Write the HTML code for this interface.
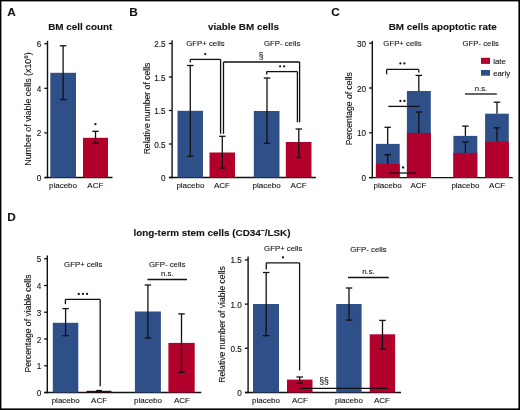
<!DOCTYPE html>
<html><head><meta charset="utf-8"><style>
html,body{margin:0;padding:0;background:#fff;}
body{width:520px;height:410px;overflow:hidden;position:relative;}
svg{position:absolute;left:0;top:0;display:block;filter:blur(0.35px);}
text{font-family:"Liberation Sans",sans-serif;fill:#111;stroke:#111;stroke-width:0.1px;}
</style></head><body>
<svg width="520" height="410" viewBox="0 0 520 410">
<rect x="0" y="0" width="520" height="410" fill="#fff"/>
<text x="7.3" y="15.8" font-size="11.8" text-anchor="start" font-weight="bold">A</text>
<text x="80.3" y="30.4" font-size="9.9" text-anchor="middle" font-weight="bold">BM cell count</text>
<text transform="translate(31.0,109) rotate(-90)" x="0" y="0" font-size="8.9" text-anchor="middle">Number of viable cells (x10<tspan dy="-3.2" font-size="6.2">6</tspan><tspan dy="3.2">)</tspan></text>
<line x1="47.5" y1="40.8" x2="47.5" y2="178.2" stroke="#111" stroke-width="1.4"/>
<line x1="44.3" y1="177.5" x2="47.5" y2="177.5" stroke="#111" stroke-width="1.3"/>
<text x="41.3" y="181.05" font-size="8.2" text-anchor="end">0</text>
<line x1="44.3" y1="132.9" x2="47.5" y2="132.9" stroke="#111" stroke-width="1.3"/>
<text x="41.3" y="136.45" font-size="8.2" text-anchor="end">2</text>
<line x1="44.3" y1="88.3" x2="47.5" y2="88.3" stroke="#111" stroke-width="1.3"/>
<text x="41.3" y="91.85" font-size="8.2" text-anchor="end">4</text>
<line x1="44.3" y1="43.69999999999999" x2="47.5" y2="43.69999999999999" stroke="#111" stroke-width="1.3"/>
<text x="41.3" y="47.25" font-size="8.2" text-anchor="end">6</text>
<line x1="44.8" y1="177.5" x2="112.5" y2="177.5" stroke="#111" stroke-width="1.4"/>
<rect x="50.3" y="72.8" width="25.7" height="104.7" fill="#2f4f89"/>
<line x1="63.1" y1="45.8" x2="63.1" y2="99.6" stroke="#111" stroke-width="1.3"/>
<line x1="59.85" y1="45.8" x2="66.35" y2="45.8" stroke="#111" stroke-width="1.3"/>
<line x1="59.85" y1="99.6" x2="66.35" y2="99.6" stroke="#111" stroke-width="1.3"/>
<rect x="83" y="137.8" width="25" height="39.7" fill="#b2002c"/>
<line x1="95.5" y1="131.3" x2="95.5" y2="143.1" stroke="#111" stroke-width="1.3"/>
<line x1="92.25" y1="131.3" x2="98.75" y2="131.3" stroke="#111" stroke-width="1.3"/>
<line x1="92.25" y1="143.1" x2="98.75" y2="143.1" stroke="#111" stroke-width="1.3"/>
<circle cx="95.4" cy="124.2" r="1.15" fill="#111"/>
<text x="63" y="188.2" font-size="8.0" text-anchor="middle">placebo</text>
<text x="95.3" y="188.2" font-size="8.0" text-anchor="middle">ACF</text>
<text x="129.3" y="15.8" font-size="11.8" text-anchor="start" font-weight="bold">B</text>
<text x="243.5" y="30.4" font-size="9.9" text-anchor="middle" font-weight="bold">viable BM cells</text>
<text transform="translate(149.6,108.5) rotate(-90)" x="0" y="0" font-size="8.6" text-anchor="middle">Relative number of cells</text>
<line x1="172.1" y1="40.2" x2="172.1" y2="178.2" stroke="#111" stroke-width="1.4"/>
<line x1="168.9" y1="43.5" x2="172.1" y2="43.5" stroke="#111" stroke-width="1.3"/>
<text x="165.6" y="47.05" font-size="8.2" text-anchor="end">2.5</text>
<line x1="168.9" y1="77" x2="172.1" y2="77" stroke="#111" stroke-width="1.3"/>
<text x="165.6" y="80.55" font-size="8.2" text-anchor="end">1.5</text>
<line x1="168.9" y1="110.5" x2="172.1" y2="110.5" stroke="#111" stroke-width="1.3"/>
<text x="165.6" y="114.05" font-size="8.2" text-anchor="end">1.5</text>
<line x1="168.9" y1="144" x2="172.1" y2="144" stroke="#111" stroke-width="1.3"/>
<text x="165.6" y="147.55" font-size="8.2" text-anchor="end">0.5</text>
<line x1="168.9" y1="177.5" x2="172.1" y2="177.5" stroke="#111" stroke-width="1.3"/>
<text x="165.6" y="181.05" font-size="8.2" text-anchor="end">0</text>
<line x1="169" y1="177.5" x2="315.8" y2="177.5" stroke="#111" stroke-width="1.4"/>
<rect x="177.5" y="110.8" width="25.5" height="66.7" fill="#2f4f89"/>
<line x1="190.3" y1="65.5" x2="190.3" y2="156.3" stroke="#111" stroke-width="1.3"/>
<line x1="187.05" y1="65.5" x2="193.55" y2="65.5" stroke="#111" stroke-width="1.3"/>
<line x1="187.05" y1="156.3" x2="193.55" y2="156.3" stroke="#111" stroke-width="1.3"/>
<rect x="209.5" y="152.5" width="25.5" height="25.0" fill="#b2002c"/>
<line x1="222.3" y1="136.3" x2="222.3" y2="168" stroke="#111" stroke-width="1.3"/>
<line x1="219.05" y1="136.3" x2="225.55" y2="136.3" stroke="#111" stroke-width="1.3"/>
<line x1="219.05" y1="168" x2="225.55" y2="168" stroke="#111" stroke-width="1.3"/>
<rect x="253.8" y="111" width="25.7" height="66.5" fill="#2f4f89"/>
<line x1="267" y1="78" x2="267" y2="143.3" stroke="#111" stroke-width="1.3"/>
<line x1="263.75" y1="78" x2="270.25" y2="78" stroke="#111" stroke-width="1.3"/>
<line x1="263.75" y1="143.3" x2="270.25" y2="143.3" stroke="#111" stroke-width="1.3"/>
<rect x="285.8" y="142" width="25.7" height="35.5" fill="#b2002c"/>
<line x1="298.8" y1="129" x2="298.8" y2="157.5" stroke="#111" stroke-width="1.3"/>
<line x1="295.55" y1="129" x2="302.05" y2="129" stroke="#111" stroke-width="1.3"/>
<line x1="295.55" y1="157.5" x2="302.05" y2="157.5" stroke="#111" stroke-width="1.3"/>
<line x1="190.3" y1="59.4" x2="220.6" y2="59.4" stroke="#111" stroke-width="1.3"/>
<line x1="190.3" y1="59.4" x2="190.3" y2="62.4" stroke="#111" stroke-width="1.3"/>
<line x1="220.6" y1="59.4" x2="220.6" y2="133.8" stroke="#111" stroke-width="1.3"/>
<circle cx="205.2" cy="54.1" r="1.15" fill="#111"/>
<line x1="223.5" y1="62" x2="299.6" y2="62" stroke="#111" stroke-width="1.3"/>
<line x1="223.5" y1="62" x2="223.5" y2="133.8" stroke="#111" stroke-width="1.3"/>
<line x1="299.6" y1="62" x2="299.6" y2="122.3" stroke="#111" stroke-width="1.3"/>
<text x="261.2" y="58.6" font-size="8.6" text-anchor="middle">§</text>
<line x1="266.7" y1="71.6" x2="297.4" y2="71.6" stroke="#111" stroke-width="1.3"/>
<line x1="266.7" y1="71.6" x2="266.7" y2="74.5" stroke="#111" stroke-width="1.3"/>
<line x1="297.4" y1="71.6" x2="297.4" y2="122.3" stroke="#111" stroke-width="1.3"/>
<circle cx="280.1" cy="66.3" r="1.15" fill="#111"/>
<circle cx="284.1" cy="66.3" r="1.15" fill="#111"/>
<text x="205.4" y="46.2" font-size="7.8" text-anchor="middle">GFP+ cells</text>
<text x="282.1" y="46.2" font-size="7.8" text-anchor="middle">GFP- cells</text>
<text x="190.4" y="188.2" font-size="8.0" text-anchor="middle">placebo</text>
<text x="222" y="188.2" font-size="8.0" text-anchor="middle">ACF</text>
<text x="266.6" y="188.2" font-size="8.0" text-anchor="middle">placebo</text>
<text x="298.6" y="188.2" font-size="8.0" text-anchor="middle">ACF</text>
<text x="331.3" y="15.8" font-size="11.8" text-anchor="start" font-weight="bold">C</text>
<text x="442.7" y="30.4" font-size="9.9" text-anchor="middle" font-weight="bold">BM cells apoptotic rate</text>
<text transform="translate(351.6,108.8) rotate(-90)" x="0" y="0" font-size="8.6" text-anchor="middle">Percentage of cells</text>
<line x1="372.3" y1="41" x2="372.3" y2="178.29999999999998" stroke="#111" stroke-width="1.4"/>
<line x1="369.1" y1="177.6" x2="372.3" y2="177.6" stroke="#111" stroke-width="1.3"/>
<text x="366.0" y="181.15" font-size="8.2" text-anchor="end">0</text>
<line x1="369.1" y1="132.79999999999998" x2="372.3" y2="132.79999999999998" stroke="#111" stroke-width="1.3"/>
<text x="366.0" y="136.35" font-size="8.2" text-anchor="end">10</text>
<line x1="369.1" y1="87.99999999999999" x2="372.3" y2="87.99999999999999" stroke="#111" stroke-width="1.3"/>
<text x="366.0" y="91.55" font-size="8.2" text-anchor="end">20</text>
<line x1="369.1" y1="43.19999999999999" x2="372.3" y2="43.19999999999999" stroke="#111" stroke-width="1.3"/>
<text x="366.0" y="46.75" font-size="8.2" text-anchor="end">30</text>
<line x1="369" y1="177.6" x2="512.8" y2="177.6" stroke="#111" stroke-width="1.4"/>
<rect x="375.9" y="143.9" width="23.8" height="33.7" fill="#2f4f89"/>
<rect x="375.9" y="163.9" width="23.8" height="13.7" fill="#b2002c"/>
<line x1="387.7" y1="127.3" x2="387.7" y2="143.9" stroke="#111" stroke-width="1.3"/>
<line x1="384.45" y1="127.3" x2="390.95" y2="127.3" stroke="#111" stroke-width="1.3"/>
<line x1="387.7" y1="154.7" x2="387.7" y2="163.9" stroke="#111" stroke-width="1.3"/>
<line x1="384.45" y1="154.7" x2="390.95" y2="154.7" stroke="#111" stroke-width="1.3"/>
<rect x="406.9" y="91" width="23.9" height="86.6" fill="#2f4f89"/>
<rect x="406.9" y="132.9" width="23.9" height="44.7" fill="#b2002c"/>
<line x1="418.8" y1="75.4" x2="418.8" y2="91" stroke="#111" stroke-width="1.3"/>
<line x1="415.55" y1="75.4" x2="422.05" y2="75.4" stroke="#111" stroke-width="1.3"/>
<line x1="418.8" y1="112" x2="418.8" y2="132.9" stroke="#111" stroke-width="1.3"/>
<line x1="415.55" y1="112" x2="422.05" y2="112" stroke="#111" stroke-width="1.3"/>
<rect x="453.4" y="135.9" width="23.9" height="41.7" fill="#2f4f89"/>
<rect x="453.4" y="152.9" width="23.9" height="24.7" fill="#b2002c"/>
<line x1="465.4" y1="126.1" x2="465.4" y2="135.9" stroke="#111" stroke-width="1.3"/>
<line x1="462.15" y1="126.1" x2="468.65" y2="126.1" stroke="#111" stroke-width="1.3"/>
<line x1="465.4" y1="142" x2="465.4" y2="152.9" stroke="#111" stroke-width="1.3"/>
<line x1="462.15" y1="142" x2="468.65" y2="142" stroke="#111" stroke-width="1.3"/>
<rect x="485.1" y="113.7" width="23.7" height="63.9" fill="#2f4f89"/>
<rect x="485.1" y="141.7" width="23.7" height="35.9" fill="#b2002c"/>
<line x1="497" y1="102.2" x2="497" y2="113.7" stroke="#111" stroke-width="1.3"/>
<line x1="493.75" y1="102.2" x2="500.25" y2="102.2" stroke="#111" stroke-width="1.3"/>
<line x1="497" y1="127.8" x2="497" y2="141.7" stroke="#111" stroke-width="1.3"/>
<line x1="493.75" y1="127.8" x2="500.25" y2="127.8" stroke="#111" stroke-width="1.3"/>
<line x1="386.6" y1="69.4" x2="418.8" y2="69.4" stroke="#111" stroke-width="1.3"/>
<line x1="386.6" y1="69.5" x2="386.6" y2="74.3" stroke="#111" stroke-width="1.3"/>
<line x1="418.8" y1="69.5" x2="418.8" y2="72.5" stroke="#111" stroke-width="1.3"/>
<circle cx="400.4" cy="63.4" r="1.15" fill="#111"/>
<circle cx="404.4" cy="63.4" r="1.15" fill="#111"/>
<line x1="388.3" y1="106.4" x2="419.8" y2="106.4" stroke="#111" stroke-width="1.3"/>
<circle cx="400.4" cy="101" r="1.15" fill="#111"/>
<circle cx="404.4" cy="101" r="1.15" fill="#111"/>
<line x1="389" y1="173" x2="415.8" y2="173" stroke="#111" stroke-width="1.3"/>
<circle cx="403.1" cy="167.5" r="1.15" fill="#111"/>
<line x1="465" y1="94" x2="496.8" y2="94" stroke="#111" stroke-width="1.3"/>
<text x="481" y="91.1" font-size="7.8" text-anchor="middle">n.s.</text>
<rect x="481" y="57.8" width="9" height="6.1" fill="#b2002c"/>
<text x="493.2" y="63.6" font-size="7.8" text-anchor="start">late</text>
<rect x="481" y="70" width="9" height="5.7" fill="#2f4f89"/>
<text x="493.2" y="75.9" font-size="7.8" text-anchor="start">early</text>
<text x="402.5" y="46.2" font-size="7.8" text-anchor="middle">GFP+ cells</text>
<text x="480.6" y="46.2" font-size="7.8" text-anchor="middle">GFP- cells</text>
<text x="387.6" y="188.2" font-size="8.0" text-anchor="middle">placebo</text>
<text x="418.4" y="188.2" font-size="8.0" text-anchor="middle">ACF</text>
<text x="465.4" y="188.2" font-size="8.0" text-anchor="middle">placebo</text>
<text x="497.1" y="188.2" font-size="8.0" text-anchor="middle">ACF</text>
<text x="7.3" y="221.4" font-size="11.8" text-anchor="start" font-weight="bold">D</text>
<text x="212" y="235.7" font-size="9.9" text-anchor="middle" font-weight="bold">long-term stem cells (CD34<tspan dy="-3.5" font-size="7">&#8211;</tspan><tspan dy="3.5">/LSK)</tspan></text>
<text transform="translate(31,323.5) rotate(-90)" x="0" y="0" font-size="8.6" text-anchor="middle">Percentage of viable cells</text>
<line x1="47.3" y1="255.4" x2="47.3" y2="393.2" stroke="#111" stroke-width="1.4"/>
<line x1="44.099999999999994" y1="392.5" x2="47.3" y2="392.5" stroke="#111" stroke-width="1.3"/>
<text x="41.2" y="396.05" font-size="8.2" text-anchor="end">0</text>
<line x1="44.099999999999994" y1="365.75" x2="47.3" y2="365.75" stroke="#111" stroke-width="1.3"/>
<text x="41.2" y="369.3" font-size="8.2" text-anchor="end">1</text>
<line x1="44.099999999999994" y1="339.0" x2="47.3" y2="339.0" stroke="#111" stroke-width="1.3"/>
<text x="41.2" y="342.55" font-size="8.2" text-anchor="end">2</text>
<line x1="44.099999999999994" y1="312.25" x2="47.3" y2="312.25" stroke="#111" stroke-width="1.3"/>
<text x="41.2" y="315.8" font-size="8.2" text-anchor="end">3</text>
<line x1="44.099999999999994" y1="285.5" x2="47.3" y2="285.5" stroke="#111" stroke-width="1.3"/>
<text x="41.2" y="289.05" font-size="8.2" text-anchor="end">4</text>
<line x1="44.099999999999994" y1="258.75" x2="47.3" y2="258.75" stroke="#111" stroke-width="1.3"/>
<text x="41.2" y="262.3" font-size="8.2" text-anchor="end">5</text>
<line x1="44.6" y1="392.5" x2="201.2" y2="392.5" stroke="#111" stroke-width="1.4"/>
<rect x="52.8" y="322.8" width="25.5" height="69.7" fill="#2f4f89"/>
<line x1="65.6" y1="308.6" x2="65.6" y2="335.7" stroke="#111" stroke-width="1.3"/>
<line x1="62.349999999999994" y1="308.6" x2="68.85" y2="308.6" stroke="#111" stroke-width="1.3"/>
<line x1="62.349999999999994" y1="335.7" x2="68.85" y2="335.7" stroke="#111" stroke-width="1.3"/>
<rect x="86.5" y="390.8" width="25.0" height="1.7" fill="#3a0a14"/>
<rect x="96.2" y="389.9" width="5.7" height="2.6" fill="#111"/>
<line x1="65.4" y1="299.4" x2="100.2" y2="299.4" stroke="#111" stroke-width="1.3"/>
<line x1="65.4" y1="299.4" x2="65.4" y2="304.2" stroke="#111" stroke-width="1.3"/>
<line x1="100.2" y1="299.4" x2="100.2" y2="386.2" stroke="#111" stroke-width="1.3"/>
<circle cx="78.75" cy="293.9" r="1.15" fill="#111"/>
<circle cx="82.9" cy="293.9" r="1.15" fill="#111"/>
<circle cx="87.05" cy="293.9" r="1.15" fill="#111"/>
<text x="83.3" y="267.3" font-size="7.8" text-anchor="middle">GFP+ cells</text>
<rect x="134.9" y="311.5" width="26.0" height="81.0" fill="#2f4f89"/>
<line x1="147.9" y1="285" x2="147.9" y2="338.1" stroke="#111" stroke-width="1.3"/>
<line x1="144.65" y1="285" x2="151.15" y2="285" stroke="#111" stroke-width="1.3"/>
<line x1="144.65" y1="338.1" x2="151.15" y2="338.1" stroke="#111" stroke-width="1.3"/>
<rect x="168.4" y="342.9" width="26.3" height="49.6" fill="#b2002c"/>
<line x1="181.5" y1="313.9" x2="181.5" y2="372.4" stroke="#111" stroke-width="1.3"/>
<line x1="178.25" y1="313.9" x2="184.75" y2="313.9" stroke="#111" stroke-width="1.3"/>
<line x1="178.25" y1="372.4" x2="184.75" y2="372.4" stroke="#111" stroke-width="1.3"/>
<text x="167.1" y="267.3" font-size="7.8" text-anchor="middle">GFP- cells</text>
<text x="167.3" y="275.7" font-size="7.8" text-anchor="middle">n.s.</text>
<line x1="147.5" y1="279.5" x2="187" y2="279.5" stroke="#111" stroke-width="1.3"/>
<text x="65.7" y="402.8" font-size="8.0" text-anchor="middle">placebo</text>
<text x="99.1" y="402.8" font-size="8.0" text-anchor="middle">ACF</text>
<text x="148" y="402.8" font-size="8.0" text-anchor="middle">placebo</text>
<text x="182" y="402.8" font-size="8.0" text-anchor="middle">ACF</text>
<text transform="translate(225,324.5) rotate(-90)" x="0" y="0" font-size="8.6" text-anchor="middle">Relative number of viable cells</text>
<line x1="248.1" y1="256.5" x2="248.1" y2="393.2" stroke="#111" stroke-width="1.4"/>
<line x1="244.9" y1="259.9" x2="248.1" y2="259.9" stroke="#111" stroke-width="1.3"/>
<text x="241.8" y="263.45" font-size="8.2" text-anchor="end">1.5</text>
<line x1="244.9" y1="304.1" x2="248.1" y2="304.1" stroke="#111" stroke-width="1.3"/>
<text x="241.8" y="307.65" font-size="8.2" text-anchor="end">1.0</text>
<line x1="244.9" y1="348.3" x2="248.1" y2="348.3" stroke="#111" stroke-width="1.3"/>
<text x="241.8" y="351.85" font-size="8.2" text-anchor="end">0.5</text>
<line x1="244.9" y1="392.5" x2="248.1" y2="392.5" stroke="#111" stroke-width="1.3"/>
<text x="241.8" y="396.05" font-size="8.2" text-anchor="end">0</text>
<line x1="245" y1="392.5" x2="401" y2="392.5" stroke="#111" stroke-width="1.4"/>
<rect x="253" y="304" width="26" height="88.5" fill="#2f4f89"/>
<line x1="266.2" y1="272.5" x2="266.2" y2="335.7" stroke="#111" stroke-width="1.3"/>
<line x1="262.95" y1="272.5" x2="269.45" y2="272.5" stroke="#111" stroke-width="1.3"/>
<line x1="262.95" y1="335.7" x2="269.45" y2="335.7" stroke="#111" stroke-width="1.3"/>
<rect x="287" y="379.6" width="25.5" height="12.9" fill="#b2002c"/>
<line x1="299.7" y1="377" x2="299.7" y2="383" stroke="#111" stroke-width="1.3"/>
<line x1="296.45" y1="377" x2="302.95" y2="377" stroke="#111" stroke-width="1.3"/>
<line x1="296.45" y1="383" x2="302.95" y2="383" stroke="#111" stroke-width="1.3"/>
<line x1="266.3" y1="262.8" x2="299.6" y2="262.8" stroke="#111" stroke-width="1.3"/>
<line x1="266.3" y1="262.8" x2="266.3" y2="269.4" stroke="#111" stroke-width="1.3"/>
<line x1="299.6" y1="262.8" x2="299.6" y2="370.5" stroke="#111" stroke-width="1.3"/>
<circle cx="283.0" cy="257.3" r="1.15" fill="#111"/>
<text x="283.3" y="251.2" font-size="7.8" text-anchor="middle">GFP+ cells</text>
<rect x="336.2" y="304" width="25.4" height="88.5" fill="#2f4f89"/>
<line x1="349" y1="288" x2="349" y2="320.1" stroke="#111" stroke-width="1.3"/>
<line x1="345.75" y1="288" x2="352.25" y2="288" stroke="#111" stroke-width="1.3"/>
<line x1="345.75" y1="320.1" x2="352.25" y2="320.1" stroke="#111" stroke-width="1.3"/>
<rect x="369.7" y="334.3" width="25.4" height="58.2" fill="#b2002c"/>
<line x1="382.5" y1="320.4" x2="382.5" y2="349" stroke="#111" stroke-width="1.3"/>
<line x1="379.25" y1="320.4" x2="385.75" y2="320.4" stroke="#111" stroke-width="1.3"/>
<line x1="379.25" y1="349" x2="385.75" y2="349" stroke="#111" stroke-width="1.3"/>
<text x="368.4" y="251.8" font-size="7.8" text-anchor="middle">GFP- cells</text>
<text x="368.5" y="274" font-size="7.8" text-anchor="middle">n.s.</text>
<line x1="348" y1="277.5" x2="388.8" y2="277.5" stroke="#111" stroke-width="1.3"/>
<text x="324.1" y="383.8" font-size="8.6" text-anchor="middle">§§</text>
<line x1="299.3" y1="388.4" x2="387.6" y2="388.4" stroke="#111" stroke-width="1.3"/>
<text x="266" y="402.8" font-size="8.0" text-anchor="middle">placebo</text>
<text x="299.9" y="402.8" font-size="8.0" text-anchor="middle">ACF</text>
<text x="348.9" y="402.8" font-size="8.0" text-anchor="middle">placebo</text>
<text x="382" y="402.8" font-size="8.0" text-anchor="middle">ACF</text>
<rect x="0" y="0" width="520" height="1.4" fill="#000"/>
<rect x="0" y="0" width="1.4" height="410" fill="#000"/>
<rect x="518.4" y="0" width="1.6" height="410" fill="#000"/>
<rect x="0" y="408.4" width="520" height="1.6" fill="#000"/>
</svg>
</body></html>
